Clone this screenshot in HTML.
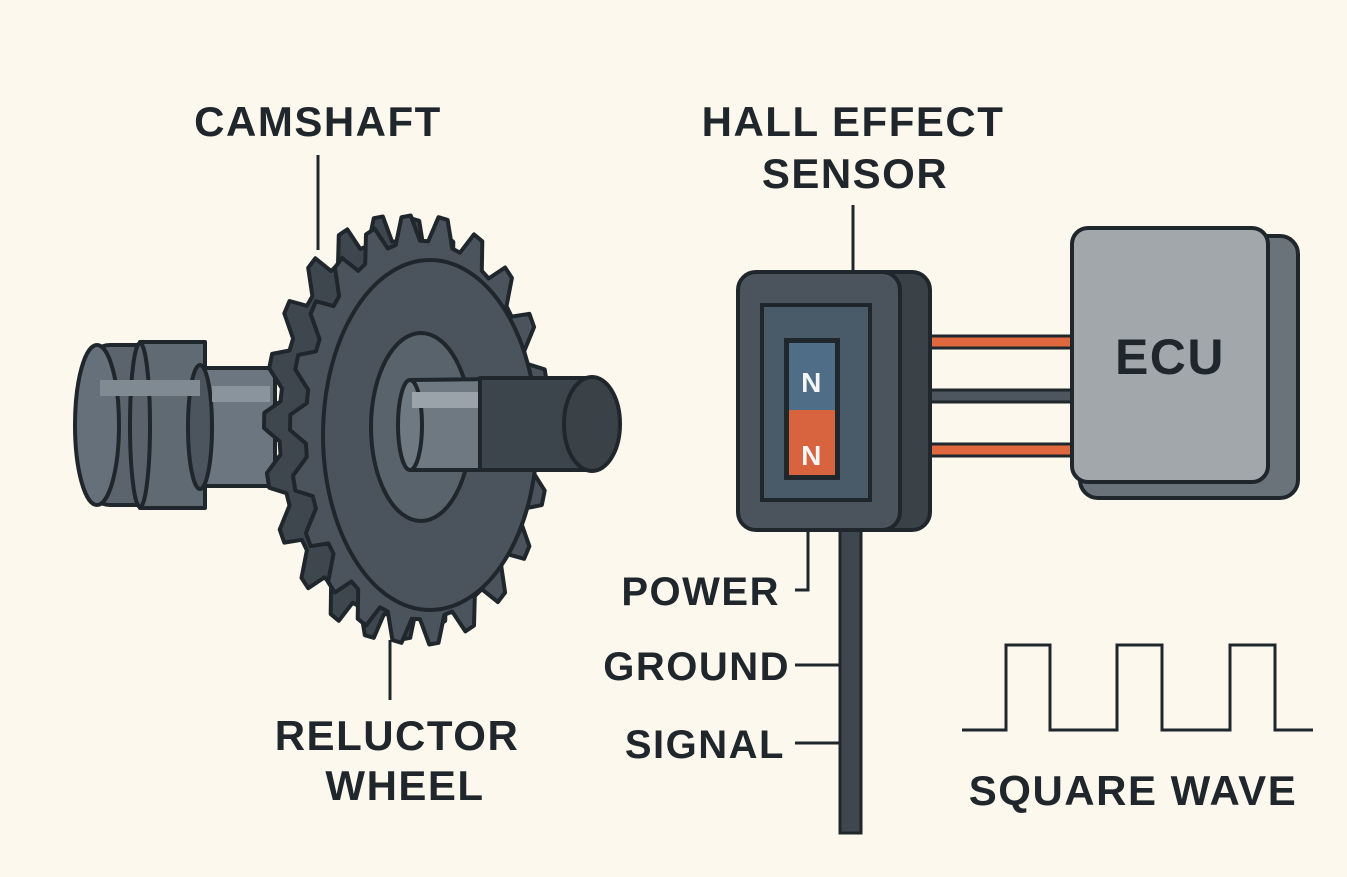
<!DOCTYPE html>
<html><head><meta charset="utf-8"><style>
html,body{margin:0;padding:0;background:#fdf8ee;}
svg{display:block}
text{font-family:"Liberation Sans",sans-serif;font-weight:bold;fill:#1f272c;letter-spacing:1.5px}
</style></head><body>
<svg id="s" width="1347" height="877" viewBox="0 0 1347 877" xmlns="http://www.w3.org/2000/svg">
<rect width="1347" height="877" fill="#fdf8ee"/>
<g stroke="#1f272c" stroke-width="4" stroke-linejoin="round">
<!-- left cam cylinder -->
<rect x="90" y="345" width="115" height="160" rx="20" fill="#5b646c"/>
<ellipse cx="97" cy="425" rx="22" ry="80" fill="#66707a"/>
<rect x="140" y="342" width="65" height="166" fill="#606a73"/>
<ellipse cx="140" cy="425" rx="10" ry="82" fill="#5a636b"/>
<rect x="200" y="368" width="75" height="118" fill="#6b7680"/>
<ellipse cx="200" cy="427" rx="12" ry="62" fill="#4c555d"/>
<rect x="100" y="380" width="100" height="16" fill="#7f8a93" stroke="none"/>
<rect x="212" y="386" width="58" height="16" fill="#8a949c" stroke="none"/>
<!-- back gear -->
<path id="g1" fill="#3f474e"/>
<!-- front gear -->
<path id="g2" fill="#4b545c"/>
<ellipse cx="430" cy="435" rx="107" ry="175" fill="#4b545c"/>
<ellipse cx="421" cy="427" rx="50" ry="94" fill="#59636b"/>
<!-- shaft -->
<path d="M410 380 L590 378 L590 470 L410 470 Z" fill="#6e7982"/>
<rect x="480" y="378" width="110" height="92" fill="#3d454c"/>
<ellipse cx="410" cy="425" rx="12" ry="45" fill="#6e7982"/>
<rect x="412" y="392" width="66" height="16" fill="#9aa3aa" stroke="none"/>
<ellipse cx="592" cy="424" rx="28" ry="47" fill="#3a4248"/>
</g>
<!-- labels lines -->
<g stroke="#1f272c" stroke-width="3" fill="none">
<line x1="318" y1="155" x2="318" y2="250"/>
<line x1="390" y1="640" x2="390" y2="700"/>
<line x1="853" y1="205" x2="853" y2="272"/>
<polyline points="808,530 808,590 795,590"/>
<line x1="795" y1="665" x2="840" y2="665"/>
<line x1="795" y1="743" x2="840" y2="743"/>
<polyline points="962,730 1006,730 1006,645 1050,645 1050,730 1117,730 1117,645 1162,645 1162,730 1230,730 1230,645 1275,645 1275,730 1313,730"/>
</g>
<!-- cable -->
<rect x="840" y="525" width="21" height="308" fill="#3f474e" stroke="#1f272c" stroke-width="3"/>
<!-- wires -->
<g stroke="#1f272c" stroke-width="3">
<rect x="925" y="336" width="150" height="12" fill="#e0683f"/>
<rect x="925" y="390" width="150" height="12" fill="#4d565e"/>
<rect x="925" y="444" width="150" height="12" fill="#e0683f"/>
</g>
<!-- sensor -->
<g stroke="#1f272c" stroke-width="4">
<rect x="760" y="272" width="170" height="258" rx="18" fill="#3a4248"/>
<rect x="738" y="272" width="162" height="258" rx="18" fill="#4b545c"/>
<rect x="762" y="305" width="108" height="195" fill="#495a69"/>
<rect x="786" y="340" width="52" height="138" fill="#1f272c"/>
<rect x="789" y="343" width="46" height="67" fill="#4f6d86" stroke="none"/>
<rect x="789" y="410" width="46" height="65" fill="#d8633f" stroke="none"/>
</g>
<text x="812" y="392" text-anchor="middle" font-size="28" style="fill:#f3f5f6">N</text>
<text x="812" y="465" text-anchor="middle" font-size="28" style="fill:#f3f5f6">N</text>
<!-- ECU -->
<g stroke="#1f272c" stroke-width="4">
<rect x="1080" y="236" width="218" height="262" rx="18" fill="#6a737a"/>
<rect x="1072" y="228" width="196" height="254" rx="16" fill="#a2a7ab"/>
</g>
<text x="1170" y="374" text-anchor="middle" font-size="50">ECU</text>
<!-- texts -->
<text x="318" y="136" text-anchor="middle" font-size="42">CAMSHAFT</text>
<text x="853" y="136" text-anchor="middle" font-size="42">HALL EFFECT</text>
<text x="855" y="188" text-anchor="middle" font-size="42">SENSOR</text>
<text x="397" y="750" text-anchor="middle" font-size="42">RELUCTOR</text>
<text x="405" y="800" text-anchor="middle" font-size="42">WHEEL</text>
<text x="780" y="605" text-anchor="end" font-size="40">POWER</text>
<text x="790" y="680" text-anchor="end" font-size="40">GROUND</text>
<text x="785" y="758" text-anchor="end" font-size="40">SIGNAL</text>
<text x="1133" y="805" text-anchor="middle" font-size="42">SQUARE WAVE</text>
</svg>
<script>
function gear(cx,cy,rx,ry,n,depth){
  var d="",N=n*4;
  for(var i=0;i<N;i++){
    var a=(i/N)*2*Math.PI;
    var k=i%4, r=(k==0||k==1)?1:(1-depth);
    var x=cx+rx*r*Math.cos(a), y=cy+ry*r*Math.sin(a);
    d+=(i==0?"M":"L")+x.toFixed(1)+" "+y.toFixed(1)+" ";
  }
  return d+"Z";
}
document.getElementById("g1").setAttribute("d",gear(392,428,128,212,22,0.12));
document.getElementById("g2").setAttribute("d",gear(420,430,130,215,22,0.12));
</script>
</body></html>
